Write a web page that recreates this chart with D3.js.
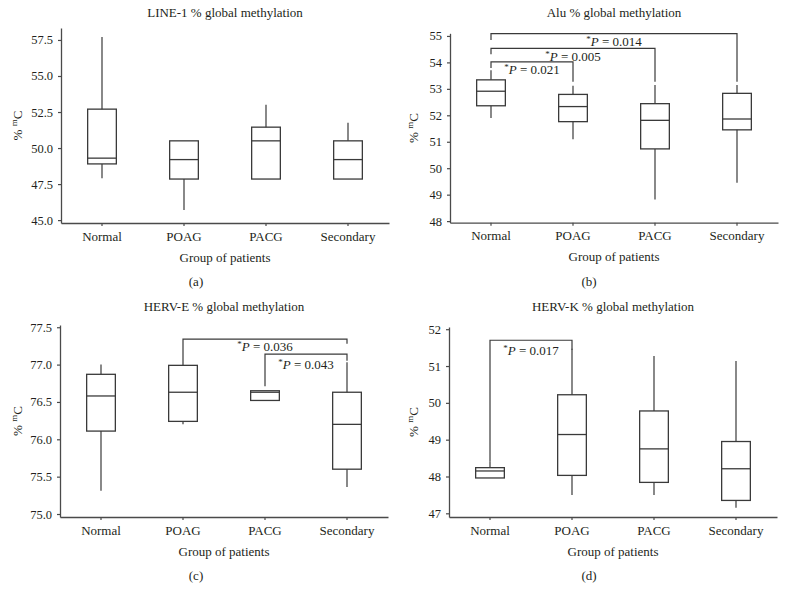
<!DOCTYPE html>
<html>
<head>
<meta charset="utf-8">
<script src="https://cdn.jsdelivr.net/npm/d3@7"></script>
<style>
  html, body { margin: 0; padding: 0; background: #fff; }
  svg { display: block; }
  text { font-family: "Liberation Serif", "Times New Roman", serif; fill: #231f20; }
</style>
</head>
<body>
<svg id="chart" width="786" height="604"></svg>
<script>
// ---------------- DATA ----------------
const categories = ["Normal", "POAG", "PACG", "Secondary"];

// (a) LINE-1
const line1Min    = [47.9, 45.7, 47.85, 47.85];
const line1Q1     = [48.9, 47.85, 47.85, 47.85];
const line1Median = [49.3, 49.2, 50.5, 49.2];
const line1Q3     = [52.7, 50.5, 51.45, 50.5];
const line1Max    = [57.7, 50.5, 53.0, 51.75];
const line1Ticks  = [45.0, 47.5, 50.0, 52.5, 55.0, 57.5];

// (b) Alu
const aluMin    = [51.9, 51.09, 48.82, 49.45];
const aluQ1     = [52.36, 51.76, 50.73, 51.45];
const aluMedian = [52.91, 52.33, 51.81, 51.86];
const aluQ3     = [53.34, 52.79, 52.44, 52.83];
const aluMax    = [53.7, 53.12, 53.15, 53.15];
const aluTicks  = [48, 49, 50, 51, 52, 53, 54, 55];
const aluBrackets = [
  { from: 0, to: 3, level: 55.09, leftEnd: 54.85, rightEnd: 53.27, p: "0.014" },
  { from: 0, to: 2, level: 54.53, leftEnd: 54.31, rightEnd: 53.27, p: "0.005" },
  { from: 0, to: 1, level: 54.02, leftEnd: 53.79, rightEnd: 53.27, p: "0.021" }
];

// (c) HERV-E
const hervEMin    = [75.31, 76.2, 76.52, 75.36];
const hervEQ1     = [76.11, 76.24, 76.52, 75.6];
const hervEMedian = [76.58, 76.63, 76.63, 76.2];
const hervEQ3     = [76.87, 76.99, 76.65, 76.63];
const hervEMax    = [77.0, 77.02, 76.65, 77.03];
const hervETicks  = [75.0, 75.5, 76.0, 76.5, 77.0, 77.5];
const hervEBrackets = [
  { from: 1, to: 3, level: 77.34, leftEnd: 77.02, rightEnd: 77.28, p: "0.036" },
  { from: 2, to: 3, level: 77.14, leftEnd: 76.71, rightEnd: 77.05, p: "0.043" }
];

// (d) HERV-K
const hervKMin    = [47.96, 47.5, 47.5, 47.15];
const hervKQ1     = [47.96, 48.03, 47.84, 47.35];
const hervKMedian = [48.15, 49.14, 48.75, 48.21];
const hervKQ3     = [48.24, 50.22, 49.78, 48.95];
const hervKMax    = [48.4, 51.47, 51.27, 51.14];
const hervKTicks  = [47, 48, 49, 50, 51, 52];
const hervKBrackets = [
  { from: 0, to: 1, level: 51.70, leftEnd: 48.4, rightEnd: 51.44, p: "0.017" }
];

// ---------------- LAYOUT ----------------
const panels = [
  { title: "LINE-1 % global methylation", letter: "(a)",
    min: line1Min, q1: line1Q1, med: line1Median, q3: line1Q3, max: line1Max,
    ticks: line1Ticks, fmt: d3.format(".1f"), brackets: [],
    x0: 61, x1: 389, yTop: 28, yBot: 223, dom: [44.8, 58.33],
    titleY: 17, letterX: 196, ylabX: 21.5, labDy: [] },
  { title: "Alu % global methylation", letter: "(b)",
    min: aluMin, q1: aluQ1, med: aluMedian, q3: aluQ3, max: aluMax,
    ticks: aluTicks, fmt: d3.format("d"), brackets: aluBrackets,
    x0: 450, x1: 778, yTop: 33.3, yBot: 222.7, dom: [47.94, 55.1],
    titleY: 17, letterX: 589, ylabX: 418, labDy: [12.5, 12.5, 12.5] },
  { title: "HERV-E % global methylation", letter: "(c)",
    min: hervEMin, q1: hervEQ1, med: hervEMedian, q3: hervEQ3, max: hervEMax,
    ticks: hervETicks, fmt: d3.format(".1f"), brackets: hervEBrackets,
    x0: 60, x1: 388, yTop: 325, yBot: 517, dom: [74.96, 77.53],
    titleY: 311, letterX: 196, ylabX: 21.5, labDy: [12, 14.5] },
  { title: "HERV-K % global methylation", letter: "(d)",
    min: hervKMin, q1: hervKQ1, med: hervKMedian, q3: hervKQ3, max: hervKMax,
    ticks: hervKTicks, fmt: d3.format("d"), brackets: hervKBrackets,
    x0: 449, x1: 777, yTop: 327, yBot: 517, dom: [46.9, 52.06],
    titleY: 311, letterX: 589, ylabX: 417.5, labDy: [14.5] }
];

const LINE = "#3a3a3a";
const AXIS = "#4a4a4a";
const svg = d3.select("#chart");

panels.forEach(p => {
  const g = svg.append("g");
  const x = d3.scaleBand().domain(categories).range([p.x0, p.x1]).padding(0);
  const y = d3.scaleLinear().domain(p.dom).range([p.yBot, p.yTop]);
  const bw = x.bandwidth() * 0.35;
  const cx = c => x(c) + x.bandwidth() / 2;

  // y axis
  const ya = g.append("g").attr("transform", `translate(${p.x0},0)`)
    .call(d3.axisLeft(y).tickValues(p.ticks).tickFormat(p.fmt).tickSize(3).tickSizeOuter(0).tickPadding(5));
  ya.select(".domain").attr("stroke", AXIS).attr("stroke-width", 1.3);
  ya.selectAll(".tick line").attr("stroke", AXIS).attr("stroke-width", 1.2);
  ya.selectAll(".tick text").attr("font-family", "Liberation Serif").attr("font-size", 12.5).attr("fill", "#231f20");

  // x axis
  const xa = g.append("g").attr("transform", `translate(0,${p.yBot})`)
    .call(d3.axisBottom(x).tickSize(3).tickSizeOuter(0).tickPadding(5.5));
  xa.select(".domain").attr("stroke", AXIS).attr("stroke-width", 1.3);
  xa.selectAll(".tick line").attr("stroke", AXIS).attr("stroke-width", 1.2);
  xa.selectAll(".tick text").attr("font-family", "Liberation Serif").attr("font-size", 13).attr("fill", "#231f20");

  // boxes
  categories.forEach((c, i) => {
    const xc = cx(c);
    // whiskers
    if (p.max[i] > p.q3[i]) {
      g.append("line").attr("x1", xc).attr("x2", xc).attr("y1", y(p.q3[i])).attr("y2", y(p.max[i]))
        .attr("stroke", LINE).attr("stroke-width", 1.2);
    }
    if (p.min[i] < p.q1[i]) {
      g.append("line").attr("x1", xc).attr("x2", xc).attr("y1", y(p.q1[i])).attr("y2", y(p.min[i]))
        .attr("stroke", LINE).attr("stroke-width", 1.2);
    }
    g.append("rect").attr("x", xc - bw / 2).attr("width", bw)
      .attr("y", y(p.q3[i])).attr("height", y(p.q1[i]) - y(p.q3[i]))
      .attr("fill", "none").attr("stroke", LINE).attr("stroke-width", 1.3);
    g.append("line").attr("x1", xc - bw / 2).attr("x2", xc + bw / 2)
      .attr("y1", y(p.med[i])).attr("y2", y(p.med[i]))
      .attr("stroke", LINE).attr("stroke-width", 1.3);
  });

  // significance brackets
  p.brackets.forEach((b, k) => {
    const xl = cx(categories[b.from]), xr = cx(categories[b.to]);
    g.append("path")
      .attr("d", `M${xl},${y(b.leftEnd)}V${y(b.level)}H${xr}V${y(b.rightEnd)}`)
      .attr("fill", "none").attr("stroke", LINE).attr("stroke-width", 1.2);
    const t = g.append("text").attr("x", (xl + xr) / 2).attr("y", y(b.level) + p.labDy[k])
      .attr("text-anchor", "middle").attr("font-size", 13);
    t.append("tspan").attr("font-size", 9).attr("dy", -4).text("*");
    t.append("tspan").attr("font-style", "italic").attr("dy", 4).text("P");
    t.append("tspan").text(" = " + b.p);
  });

  // title
  g.append("text").attr("x", (p.x0 + p.x1) / 2).attr("y", p.titleY)
    .attr("text-anchor", "middle").attr("font-size", 13).text(p.title);

  // y label
  const ym = (p.yTop + p.yBot) / 2;
  const yl = g.append("text").attr("transform", `translate(${p.ylabX},${ym}) rotate(-90)`)
    .attr("text-anchor", "middle").attr("font-size", 13);
  yl.append("tspan").text("% ");
  yl.append("tspan").attr("font-size", 9).attr("dy", -5).text("m");
  yl.append("tspan").attr("dy", 5).text("C");

  // x label
  g.append("text").attr("x", (p.x0 + p.x1) / 2).attr("y", p.yBot + 38.5)
    .attr("text-anchor", "middle").attr("font-size", 13).text("Group of patients");

  // panel letter
  g.append("text").attr("x", p.letterX).attr("y", p.yBot + 63)
    .attr("text-anchor", "middle").attr("font-size", 13).text(p.letter);
});
</script>
</body>
</html>
